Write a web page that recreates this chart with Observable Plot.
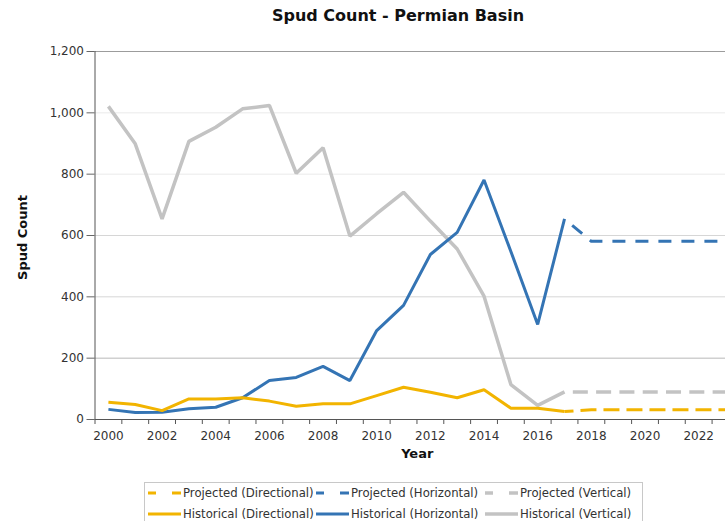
<!DOCTYPE html>
<html>
<head>
<meta charset="utf-8">
<script src="https://cdn.jsdelivr.net/npm/d3@7"></script>
<script src="https://cdn.jsdelivr.net/npm/@observablehq/plot@0.6"></script>
<style>
  html, body { margin: 0; padding: 0; background: #fff; overflow: hidden; }
  #wrap { position: relative; width: 725px; height: 521px; font-family: "DejaVu Sans", Verdana, sans-serif; }
  #title { position: absolute; top: 6px; left: 0; width: 796px; text-align: center; font-weight: bold; font-size: 16px; line-height: 20px; color: #111; }
  #chart { position: absolute; top: 0; left: 0; }
  #legend { position: absolute; top: 482px; left: 144px; width: 497px; height: 50px; border: 1px solid #c8c8c8; background: #fff; }
  .item { position: absolute; display: flex; align-items: center; font-size: 11.7px; color: #333; white-space: nowrap; height: 16px; }
  .item svg { margin-right: 2px; }
</style>
</head>
<body>
<div id="wrap">
  <div id="chart"></div>
  <div id="title">Spud Count - Permian Basin</div>
  <div id="legend"></div>
</div>
<script>
// ---- data ----
const histYears = [2000, 2001, 2002, 2003, 2004, 2005, 2006, 2007, 2008, 2009, 2010, 2011, 2012, 2013, 2014, 2015, 2016, 2017];
const histDirectional = [56, 49, 29, 67, 67, 71, 60, 43, 51, 51, 78, 105, 89, 71, 97, 37, 37, 26];
const histHorizontal = [33, 23, 24, 35, 40, 71, 127, 137, 173, 127, 290, 372, 538, 610, 781, 548, 310, 654];
const histVertical = [1021, 899, 654, 907, 953, 1013, 1024, 803, 886, 598, 671, 741, 647, 556, 402, 114, 46, 90];

const projYears = [2017, 2018, 2019, 2020, 2021, 2022, 2023];
const projDirectional = [26, 32, 32, 32, 32, 32, 32];
const projHorizontal = [654, 581, 581, 581, 581, 581, 581];
const projVertical = [90, 90, 90, 90, 90, 90, 90];

const yTicks = [0, 200, 400, 600, 800, 1000, 1200];
const xLabelYears = [2000, 2002, 2004, 2006, 2008, 2010, 2012, 2014, 2016, 2018, 2020, 2022];

const seriesNames = [
  "Projected (Directional)", "Projected (Horizontal)", "Projected (Vertical)",
  "Historical (Directional)", "Historical (Horizontal)", "Historical (Vertical)"
];

// ---- styles ----
const YELLOW = "#f2b400", BLUE = "#3474b4", GRAY = "#c3c3c3";

const toRows = (xs, vs) => xs.map((x, i) => ({year: x, value: vs[i]}));

const gridColor = v => v === 1200 ? "#9c9c9c" : v === 200 ? "#b8b8b8" : v >= 800 ? "#eaeaea" : "#d6d6d6";
const boundaries = d3.range(1999.5, 2023, 1);

const chart = Plot.plot({
  width: 725,
  height: 475,
  marginTop: 51,
  marginBottom: 56,
  marginLeft: 94.5,
  marginRight: 0,
  style: {fontFamily: "DejaVu Sans, Verdana, sans-serif", fontSize: "12px", color: "#333", background: "transparent"},
  x: {domain: [1999.5, 2023], label: null},
  y: {domain: [0, 1200], label: null},
  marks: [
    Plot.ruleY(yTicks.filter(v => v > 0), {y: d => d, stroke: d => gridColor(d), strokeWidth: 1}),
    Plot.axisY({ticks: yTicks, tickSize: 8, tickPadding: 3, tickFormat: d3.format(","), label: null, stroke: "#666", fill: "#333", fontSize: 12}),
    Plot.axisX({ticks: boundaries, tickSize: 5, tickFormat: () => "", label: null, stroke: "#555"}),
    Plot.axisX({ticks: xLabelYears, tickSize: 0, tickPadding: 12, tickFormat: d3.format("d"), label: null, fill: "#333", fontSize: 12}),
    Plot.ruleX([1999.5], {stroke: "#555"}),
    Plot.ruleY([0], {stroke: "#555"}),
    // projected (dashed)
    Plot.line(toRows(projYears, projVertical), {x: "year", y: "value", stroke: GRAY, strokeWidth: 3.5, strokeLinecap: "butt", strokeDasharray: "15,8.3", strokeDashoffset: 15}),
    Plot.line(toRows(projYears, projHorizontal), {x: "year", y: "value", stroke: BLUE, strokeWidth: 3, strokeLinecap: "butt", strokeDasharray: "13,10", strokeDashoffset: 13}),
    Plot.line(toRows(projYears, projDirectional), {x: "year", y: "value", stroke: YELLOW, strokeWidth: 3, strokeLinecap: "butt", strokeDasharray: "16,7", strokeDashoffset: 7}),
    // historical (solid)
    Plot.line(toRows(histYears, histVertical), {x: "year", y: "value", stroke: GRAY, strokeWidth: 3.5, strokeLinejoin: "miter", strokeLinecap: "butt"}),
    Plot.line(toRows(histYears, histHorizontal), {x: "year", y: "value", stroke: BLUE, strokeWidth: 3, strokeLinejoin: "miter", strokeLinecap: "butt"}),
    Plot.line(toRows(histYears, histDirectional), {x: "year", y: "value", stroke: YELLOW, strokeWidth: 3, strokeLinejoin: "miter", strokeLinecap: "butt"}),
    // axis titles
    Plot.text(["Year"], {frameAnchor: "bottom", dx: 7, dy: 38, text: d => d, fontWeight: "bold", fontSize: 13, fill: "#111"}),
    Plot.text(["Spud Count"], {frameAnchor: "left", dx: -72.5, dy: 2, rotate: -90, textAnchor: "middle", text: d => d, fontWeight: "bold", fontSize: 13, fill: "#111"})
  ]
});
document.getElementById("chart").appendChild(chart);

// ---- legend ----
const legendColors = [YELLOW, BLUE, GRAY, YELLOW, BLUE, GRAY];
const legend = document.getElementById("legend");
const colLeft = [3, 171, 340];
const rowTop = [2, 23];
seriesNames.forEach((name, i) => {
  const row = Math.floor(i / 3), col = i % 3;
  const dashed = row === 0;
  const el = document.createElement("div");
  el.className = "item";
  el.style.left = colLeft[col] + "px";
  el.style.top = rowTop[row] + "px";
  const sw = legendColors[i] === GRAY ? 3.5 : 3;
  const line = dashed
    ? `<line x1="0" y1="5" x2="33" y2="5" stroke="${legendColors[i]}" stroke-width="${sw}" stroke-dasharray="8,16,9"/>`
    : `<line x1="0" y1="5" x2="33" y2="5" stroke="${legendColors[i]}" stroke-width="${sw}"/>`;
  el.innerHTML = `<svg width="33" height="10">${line}</svg><span>${name}</span>`;
  legend.appendChild(el);
});
</script>
</body>
</html>
